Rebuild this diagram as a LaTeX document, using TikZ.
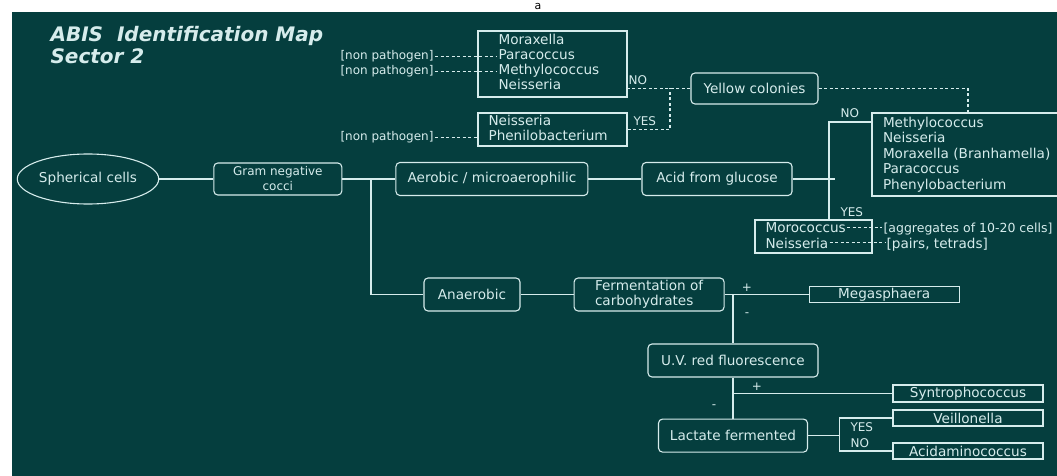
\documentclass[tikz,border=0pt]{standalone}
\usepackage{fontspec}
\setmainfont{DejaVu Sans}
\usepackage{tikz}
\usetikzlibrary{positioning,shapes.geometric}

\definecolor{board}{RGB}{5,62,62}
\definecolor{chalk}{RGB}{214,236,236}

\begin{document}
\begin{tikzpicture}[x=1pt, y=-1pt, line width=1.1pt, color=chalk]
	\tikzstyle{txt}=[inner sep=1pt, font=\fontsize{13.6}{15}\selectfont]
	\tikzstyle{small}=[inner sep=1pt, font=\fontsize{12}{15}\selectfont]
	\tikzstyle{lbl}=[inner sep=0pt, font=\fontsize{12}{12}\selectfont]
	\tikzstyle{rbox}=[txt, draw, rounded corners=4pt, inner xsep=3pt, minimum height=33pt]
	\tikzstyle{sbox}=[txt, draw, minimum width=150pt, minimum height=16pt, inner ysep=0.5pt]
	\tikzstyle{dashline}=[dash pattern=on 3pt off 2.5pt]
	% board
	\fill[white] (0,0) rectangle (1057,476);
	\fill[board] (12,12) rectangle (1057,476);
	\useasboundingbox (0,0) rectangle (1057,476);
	\node[text=black, font=\fontsize{11}{11}\selectfont, anchor=base, inner sep=0pt]
	(pagea) at (538,9.5) {a};
	% % Nodes
	% title
	\node[font=\fontsize{20}{22}\selectfont\bfseries\itshape, anchor=base west, inner sep=0pt]
	(title) at (50,42) {ABIS~~Identification Map};
	\node[font=\fontsize{20}{22}\selectfont\bfseries\itshape, anchor=base west, inner sep=0pt]
	(sector) at (50,64) {Sector 2};
	% main line
	\node[txt, draw, ellipse, minimum width=139pt, minimum height=50pt]
	(sph) at (88,179) {Spherical cells};
	\node[rbox, small, right=54pt of sph, minimum width=128pt, minimum height=32pt, align=center]
	(gram) {Gram negative\\cocci};
	\node[rbox, right=53pt of gram, minimum width=192pt](aero) {Aerobic / microaerophilic};
	\node[rbox, right=53pt of aero, minimum width=150pt](acid) {Acid from glucose};
	% aerobic branch
	\node[draw, txt, align=left, text width=176pt, inner xsep=11pt, minimum height=83pt,
		  font=\fontsize{13.6}{15.4}\selectfont]
	(big) at (971,154.5)
	{
		Methylococcus\\
		Neisseria\\
		Moraxella (Branhamella)\\
		Paracoccus\\
		Phenylobacterium
	};
	\node[draw, minimum width=117pt, minimum height=33pt](moro) at (813.5,236.5) {};
	\node[txt, anchor=base west](mo1) at (764,232.5) {Morococcus};
	\node[txt, anchor=base west](mo2) at (764,248) {Neisseria};
	\node[txt, anchor=base west, font=\fontsize{12.5}{15}\selectfont]
	(agg) at (882,232.5) {[aggregates of 10-20 cells]};
	\node[txt, anchor=base west](pairs) at (885,248) {[pairs, tetrads]};
	% yellow colonies
	\node[rbox, minimum width=127pt, minimum height=31pt](yellow) at (754.5,88.5) {Yellow colonies};
	\node[draw, minimum width=149pt, minimum height=66pt](morax) at (552.5,64) {};
	\node[txt, anchor=base west](mor1) at (497,44.5) {Moraxella};
	\node[txt, anchor=base west](mor2) at (497,59.5) {Paracoccus};
	\node[txt, anchor=base west](mor3) at (497,74.5) {Methylococcus};
	\node[txt, anchor=base west](mor4) at (497,89.5) {Neisseria};
	\node[draw, minimum width=149pt, minimum height=33pt](phen) at (552.5,129.5) {};
	\node[txt, anchor=base west](phe1) at (487,126) {Neisseria};
	\node[txt, anchor=base west](phe2) at (487,141) {Phenilobacterium};
	\node[small, anchor=base west](np1) at (339,59.5) {[non pathogen]};
	\node[small, anchor=base west](np2) at (339,74.5) {[non pathogen]};
	\node[small, anchor=base west](np3) at (339,141) {[non pathogen]};
	% anaerobic branch
	\node[rbox, minimum width=96pt](ana) at (472,294.5) {Anaerobic};
	\node[rbox, right=53pt of ana, minimum width=150pt, align=left]
	(ferm) {Fermentation of\\carbohydrates};
	\node[sbox, right=84pt of ferm](mega) {Megasphaera};
	\node[rbox, minimum width=170pt](uv) at (733,360.5) {U.V. red fluorescence};
	\node[rbox, below=41pt of uv, minimum width=149pt](lact) {Lactate fermented};
	\node[sbox, minimum height=17pt](syn) at (968,393.5) {Syntrophococcus};
	\node[sbox](veil) at (968,418) {Veillonella};
	\node[sbox](acida) at (968,451) {Acidaminococcus};
	% labels
	\node[lbl, anchor=base west](no1) at (628,85) {NO};
	\node[lbl, anchor=base west](yes1) at (633,125) {YES};
	\node[lbl, anchor=base west](no2) at (840,117.5) {NO};
	\node[lbl, anchor=base west](yes2) at (840,216) {YES};
	\node[lbl, anchor=base](plus1) at (747,291) {+};
	\node[lbl, anchor=base](minus1) at (747,316) {-};
	\node[lbl, anchor=base](plus2) at (757,390) {+};
	\node[lbl, anchor=base](minus2) at (714,408) {-};
	\node[lbl, anchor=base west](yes3) at (850,431) {YES};
	\node[lbl, anchor=base west](no3) at (850,447) {NO};
	% % Connectors
	\draw (sph) -- (gram);
	\draw (gram) -- (aero);
	\draw (aero) -- (acid);
	\coordinate (gsplit) at (371,179);
	\draw (gsplit) |- (ana);
	\draw (ana) -- (ferm);
	\draw (ferm.east) -- (mega.west);
	\coordinate (fsplit) at (uv.north |- ferm.east);
	\draw (fsplit) -- (uv);
	\draw (uv) -- (lact);
	\draw (uv.south |- syn.west) -- (syn.west);
	\coordinate (lsplit) at ([xshift=31pt]lact.east);
	\draw (lact) -- (lsplit);
	\draw (veil.west) -| (lsplit) |- (acida.west);
	\coordinate (asplit) at ([xshift=42pt]acid.east);
	\coordinate (ano) at (829,122);
	\draw (acid) -- (asplit);
	\draw (big.west |- ano) -- (ano) -- (moro.north -| ano);
	% dashed
	\draw[dashline] (np1.east) -- (np1.east -| mor2.west);
	\draw[dashline] (np2.east) -- (np2.east -| mor3.west);
	\draw[dashline] (np3.east) -- (np3.east -| phen.west);
	\coordinate (nyjoin) at (670,88.5);
	\coordinate (ytop) at ([xshift=-3pt]big.north);
	\draw[dashline] (yellow.west) -- (yellow.west -| morax.east);
	\draw[dashline] (phen.east) -| (nyjoin);
	\draw[dashline] (yellow.east) -| (ytop);
	\draw[dashline] (mo1.east) -- (mo1.east -| agg.west);
	\draw[dashline] (mo2.east) -- (mo2.east -| pairs.west);
\end{tikzpicture}
\end{document}
